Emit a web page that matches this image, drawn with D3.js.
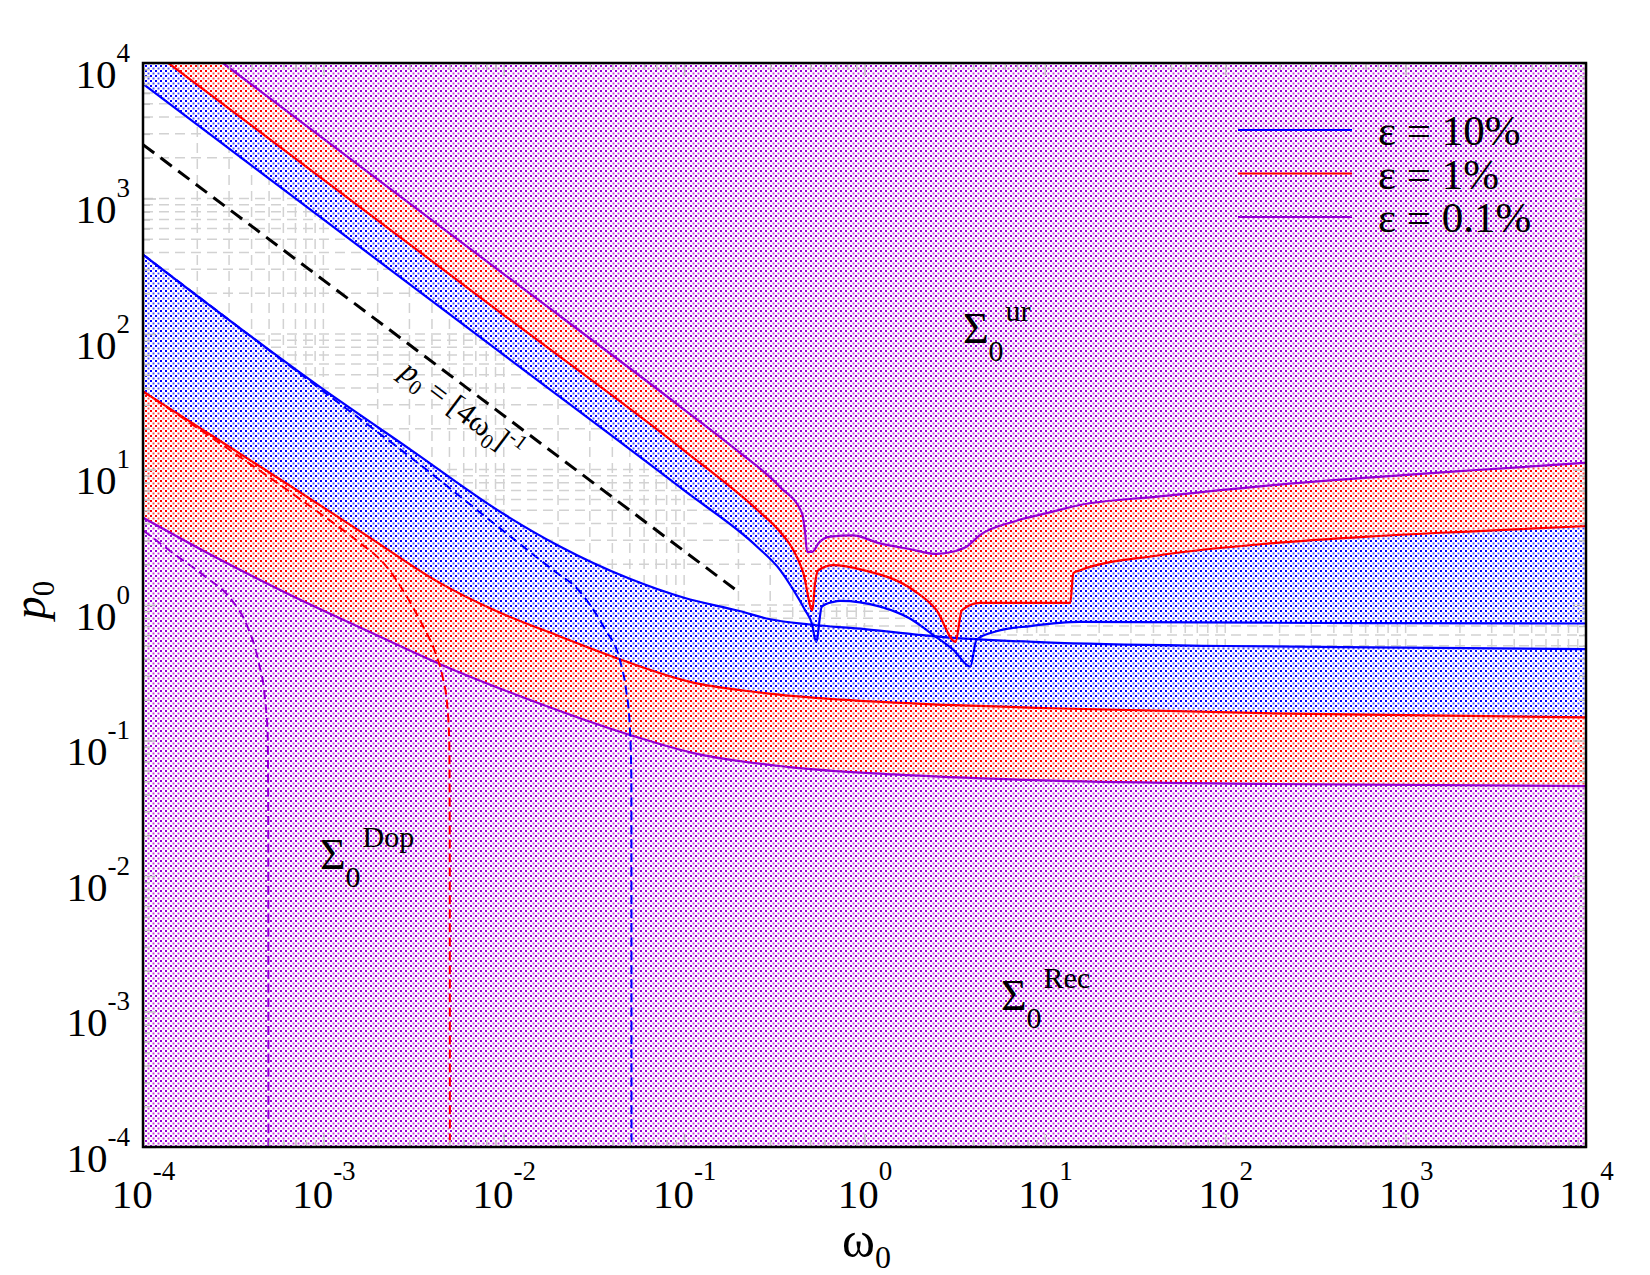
<!DOCTYPE html>
<html>
<head>
<meta charset="utf-8">
<script src="https://cdnjs.cloudflare.com/ajax/libs/d3/7.8.5/d3.min.js"></script>
<style>
body { margin: 0; background: #fff; }
text { font-family: "Liberation Serif", "Times New Roman", serif; fill: #000; }
</style>
</head>
<body>
<script>

// CURVES, [omega0, p0] PAIRS
var blueUpper = [[1e-4, 7000], [1e-3, 700], [1e-2, 70], [0.1, 7.0], [0.2557, 2.67], [0.3408, 1.81], [0.4036, 1.29],
	[0.4677, 0.919], [0.5105, 0.731], [0.5395, 0.535], [0.580, 0.972], [0.6727, 1.055], [0.7328, 1.074], [1.220, 0.972],
	[1.794, 0.792], [2.410, 0.600], [3.112, 0.466], [3.857, 0.351], [4.181, 0.555], [5.395, 0.640], [8.30, 0.699],
	[15.6, 0.751], [161.6, 0.740], [1e4, 0.730]];
var blueLower = [[1e-4, 386], [1e-3, 39], [3e-3, 14.2], [1e-2, 4.69], [0.02, 2.75], [0.05, 1.56], [0.1, 1.13], [0.2, 0.906],
	[0.3, 0.785], [0.5, 0.718], [1, 0.663], [3, 0.574], [10, 0.530], [100, 0.498], [1e3, 0.485], [1e4, 0.472]];
var blueDoppler = [[1e-4, 386], [1e-3, 37.7], [3e-3, 12.5], [1e-2, 3.5], [0.02, 1.70], [0.025, 1.36], [0.0298, 1.02],
	[0.0364, 0.663], [0.044, 0.394], [0.0476, 0.239], [0.04997, 0.128], [0.0510, 0.0523], [0.0511, 5e-5]];

var redUpper = [[1e-4, 13800], [1e-3, 1380], [1e-2, 138], [0.1, 13.8], [0.2557, 5.0], [0.3408, 3.46], [0.4036, 2.54],
	[0.4586, 1.71], [0.514, 0.914], [0.532, 1.445], [0.5535, 1.80], [0.6727, 1.97], [0.985, 1.81], [1.867, 1.285],
	[2.509, 0.914], [3.196, 0.535], [3.464, 0.914], [4.353, 1.036], [6.43, 1.036], [13.82, 1.036], [14.39, 1.72],
	[15.6, 1.80], [42.2, 2.32], [161.6, 2.82], [619, 3.20], [2373, 3.50], [1e4, 3.82]];
var redLower = [[1e-4, 37.7], [2.363e-4, 18.1], [6.56e-4, 7.55], [1.773e-3, 3.20], [4.42e-3, 1.456], [8.89e-3, 0.914],
	[0.0199, 0.595], [0.0464, 0.388], [0.108, 0.271], [0.2557, 0.227], [0.749, 0.200], [2.87, 0.183], [11.0, 0.173],
	[161.6, 0.159], [1e4, 0.148]];
var redDoppler = [[1e-4, 37.7], [2.4e-4, 17.2], [9.06e-4, 5.0], [1.55e-3, 2.95], [2.169e-3, 2.02], [2.876e-3, 1.175],
	[3.565e-3, 0.70], [4.19e-3, 0.44], [4.603e-3, 0.286], [4.857e-3, 0.183], [4.989e-3, 0.0978], [5.02e-3, 0.0179], [5.03e-3, 5e-5]];

var violetUpper = [[1e-4, 27700], [1e-3, 2770], [1e-2, 277], [0.1, 27.7], [0.1954, 13.9], [0.3408, 7.41], [0.4494, 4.78],
	[0.4677, 3.50], [0.4807, 2.47], [0.514, 2.47], [0.557, 2.87], [0.6456, 3.20], [0.8566, 3.26], [1.220, 2.85],
	[1.794, 2.58], [2.509, 2.38], [3.112, 2.48], [3.69, 2.70], [4.382, 3.29], [6.69, 4.12], [10.24, 4.76], [15.6, 5.47],
	[42.2, 6.31], [161.6, 7.55], [619, 8.71], [2373, 9.87], [1e4, 11.2]];
var violetLower = [[1e-4, 4.41], [2.363e-4, 2.36], [6.3e-4, 1.217], [1.773e-3, 0.640], [4.54e-3, 0.361], [0.0133, 0.204],
	[0.051, 0.109], [0.108, 0.0818], [0.3825, 0.0637], [1.466, 0.0562], [11.0, 0.0505], [161.6, 0.0478], [1e4, 0.0461]];
var violetDoppler = [[1e-4, 3.56], [1.476e-4, 2.40], [2.209e-4, 1.622], [3.092e-4, 1.094], [3.782e-4, 0.70], [4.384e-4, 0.374],
	[4.752e-4, 0.200], [4.913e-4, 0.107], [4.947e-4, 0.0256], [4.96e-4, 5e-5]];

// p0 = [4 omega0]^-1 GUIDE, END POINTS
var guideLine = [[1e-4, 2500], [0.2, 1.25]];

var tickExponents = [-4, -3, -2, -1, 0, 1, 2, 3, 4];
var legendLabels = ["\u03b5 = 10%", "\u03b5 = 1%", "\u03b5 = 0.1%"];
var legendColors = ["#0000ff", "#ff0000", "#9400d3"];

var W = 1650, H = 1275;
var plot = { left: 143, right: 1586, top: 63, bottom: 1147 };

var svg = d3.select("body").append("svg").attr("width", W).attr("height", H);
var defs = svg.append("defs");

var x = d3.scaleLog().domain([1e-4, 1e4]).range([plot.left, plot.right]);
var y = d3.scaleLog().domain([1e-4, 1e4]).range([plot.bottom, plot.top]);

defs.append("clipPath").attr("id", "plotClip").append("rect")
	.attr("x", plot.left).attr("y", plot.top)
	.attr("width", plot.right - plot.left).attr("height", plot.bottom - plot.top);

function MakePattern(id, dark, light) {
	var pat = defs.append("pattern").attr("id", id)
		.attr("patternUnits", "userSpaceOnUse").attr("width", 5).attr("height", 5);
	pat.append("rect").attr("width", 5).attr("height", 5).attr("fill", "#fff");
	pat.append("rect").attr("x", 0).attr("y", 0).attr("width", 2).attr("height", 2).attr("fill", dark);
	pat.append("rect").attr("x", 2.5).attr("y", 2.5).attr("width", 2).attr("height", 2).attr("fill", light);
}
MakePattern("dotBlue", "#0000ff", "#4d4dff");
MakePattern("dotRed", "#ff0000", "#ff4d4d");
MakePattern("dotViolet", "#9400d3", "#cc3ee0");

var line = d3.line().x(function(d){ return x(d[0]) }).y(function(d){ return y(d[1]) }).curve(d3.curveMonotoneX);

function AbovePath(pts) {
	var n = pts.length - 1;
	return line(pts) + "L" + x(pts[n][0]) + "," + (plot.top - 600) + "L" + x(pts[0][0]) + "," + (plot.top - 600) + "Z";
}
function BelowPath(pts) {
	var n = pts.length - 1;
	return line(pts) + "L" + x(pts[n][0]) + "," + (plot.bottom + 600) + "L" + x(pts[0][0]) + "," + (plot.bottom + 600) + "Z";
}

var inner = svg.append("g").attr("clip-path", "url(#plotClip)");

inner.append("rect").attr("x", plot.left).attr("y", plot.top)
	.attr("width", plot.right - plot.left).attr("height", plot.bottom - plot.top).attr("fill", "#fff");

//GRID
var gridValues = [];
for (var e = -4; e < 4; e++) {
	for (var m = 1; m < 10; m++) {
		if (e == -4 && m == 1) continue;
		gridValues.push(m * Math.pow(10, e));
	}
}
var grid = inner.append("g").attr("stroke", "#d2d2d2").attr("stroke-width", 1.5).attr("stroke-dasharray", "10,6");
grid.selectAll("line.v").data(gridValues).enter().append("line").attr("class", "v")
	.attr("x1", function(d){ return x(d) }).attr("x2", function(d){ return x(d) })
	.attr("y1", plot.top).attr("y2", plot.bottom);
grid.selectAll("line.h").data(gridValues).enter().append("line").attr("class", "h")
	.attr("y1", function(d){ return y(d) }).attr("y2", function(d){ return y(d) })
	.attr("x1", plot.left).attr("x2", plot.right);

//PATTERN REGIONS, NARROWEST BAND FIRST
var bands = [
	{ up: blueUpper, low: blueLower, fill: "url(#dotBlue)" },
	{ up: redUpper, low: redLower, fill: "url(#dotRed)" },
	{ up: violetUpper, low: violetLower, fill: "url(#dotViolet)" }];
bands.forEach(function(b){
	inner.append("path").attr("d", AbovePath(b.up)).attr("fill", b.fill);
	inner.append("path").attr("d", BelowPath(b.low)).attr("fill", b.fill);
});

//CURVES
var solid = [[blueUpper, "#0000ff"], [blueLower, "#0000ff"], [redUpper, "#ff0000"], [redLower, "#ff0000"],
	[violetUpper, "#9400d3"], [violetLower, "#9400d3"]];
solid.forEach(function(s){
	inner.append("path").attr("d", line(s[0])).attr("fill", "none")
		.attr("stroke", s[1]).attr("stroke-width", 2.2);
});
var dashed = [[blueDoppler, "#0000ff"], [redDoppler, "#ff0000"], [violetDoppler, "#9400d3"]];
dashed.forEach(function(s){
	inner.append("path").attr("d", line(s[0])).attr("fill", "none")
		.attr("stroke", s[1]).attr("stroke-width", 2).attr("stroke-dasharray", "9,5");
});
inner.append("path").attr("d", d3.line().x(function(d){ return x(d[0]) }).y(function(d){ return y(d[1]) })(guideLine))
	.attr("fill", "none").attr("stroke", "#000").attr("stroke-width", 3).attr("stroke-dasharray", "14,8");

//GREY INWARD TICKS
var majors = tickExponents.map(function(k){ return Math.pow(10, k) });
var minors = gridValues.filter(function(v){ return majors.indexOf(v) < 0 });

function TickAxis(axisFn, values, size, transform) {
	var g = svg.append("g").attr("transform", transform)
		.call(axisFn.tickValues(values).tickSize(-size).tickFormat(""));
	g.select(".domain").remove();
	g.selectAll("text").remove();
	g.selectAll("line").attr("stroke", "#c4c4c4").attr("stroke-width", 1.5);
}
TickAxis(d3.axisBottom(x), minors, 7, "translate(0," + plot.bottom + ")");
TickAxis(d3.axisBottom(x), majors, 13, "translate(0," + plot.bottom + ")");
TickAxis(d3.axisTop(x), minors, 7, "translate(0," + plot.top + ")");
TickAxis(d3.axisTop(x), majors, 13, "translate(0," + plot.top + ")");
TickAxis(d3.axisLeft(y), minors, 7, "translate(" + plot.left + ",0)");
TickAxis(d3.axisLeft(y), majors, 13, "translate(" + plot.left + ",0)");
TickAxis(d3.axisRight(y), minors, 7, "translate(" + plot.right + ",0)");
TickAxis(d3.axisRight(y), majors, 13, "translate(" + plot.right + ",0)");

//FRAME
svg.append("rect").attr("x", plot.left).attr("y", plot.top)
	.attr("width", plot.right - plot.left).attr("height", plot.bottom - plot.top)
	.attr("fill", "none").attr("stroke", "#000").attr("stroke-width", 2.5);

//TICK LABELS
var xLab = svg.append("g").attr("transform", "translate(0," + plot.bottom + ")")
	.call(d3.axisBottom(x).tickValues(majors).tickSize(0).tickFormat(""));
xLab.select(".domain").remove();
xLab.selectAll("text").remove();
xLab.selectAll(".tick").each(function(d, i){
	var t = d3.select(this).append("text").attr("y", 61).attr("text-anchor", "middle");
	t.append("tspan").attr("font-size", 41).text("10");
	t.append("tspan").attr("font-size", 27).attr("dy", -28).text(String(tickExponents[i]));
});

var yLab = svg.append("g").attr("transform", "translate(" + plot.left + ",0)")
	.call(d3.axisLeft(y).tickValues(majors).tickSize(0).tickFormat(""));
yLab.select(".domain").remove();
yLab.selectAll("text").remove();
yLab.selectAll(".tick").each(function(d, i){
	var t = d3.select(this).append("text").attr("x", -13).attr("y", 24).attr("text-anchor", "end");
	t.append("tspan").attr("font-size", 41).text("10");
	t.append("tspan").attr("font-size", 27).attr("dy", -26).text(String(tickExponents[i]));
});

//AXIS TITLES
var xt = svg.append("text").attr("x", 842).attr("y", 1257);
xt.append("tspan").attr("font-size", 50).text("\u03c9");
xt.append("tspan").attr("font-size", 32).attr("dy", 11).text("0");

var yt = svg.append("text").attr("transform", "translate(45,600) rotate(-90)").attr("text-anchor", "middle");
yt.append("tspan").attr("font-size", 46).attr("font-style", "italic").text("p");
yt.append("tspan").attr("font-size", 31).attr("dy", 9).text("0");

//REGION LABELS
function SigmaLabel(px, py, sup) {
	var t = svg.append("text").attr("x", px).attr("y", py);
	t.append("tspan").attr("font-size", 44).text("\u03a3");
	t.append("tspan").attr("font-size", 30).attr("dy", 18).text("0");
	t.append("tspan").attr("font-size", 30).attr("dy", -40).attr("dx", 2).text(sup);
}
SigmaLabel(963, 343, "ur");
SigmaLabel(320, 869, "Dop");
SigmaLabel(1001, 1010, "Rec");

//GUIDE LINE LABEL
var angle = Math.atan2(y(guideLine[1][1]) - y(guideLine[0][1]), x(guideLine[1][0]) - x(guideLine[0][0])) * 180 / Math.PI;
var gl = svg.append("text").attr("transform", "translate(456,418) rotate(" + angle + ")").attr("text-anchor", "middle");
gl.append("tspan").attr("font-size", 31).attr("font-style", "italic").text("p");
gl.append("tspan").attr("font-size", 21).attr("dy", 7).text("0");
gl.append("tspan").attr("font-size", 31).attr("dy", -7).text(" = [4\u03c9");
gl.append("tspan").attr("font-size", 21).attr("dy", 7).text("0");
gl.append("tspan").attr("font-size", 31).attr("dy", -7).text("]");
gl.append("tspan").attr("font-size", 21).attr("dy", -13).text("-1");

//LEGEND
var legend = svg.append("g");
legendLabels.forEach(function(lab, i){
	var ly = 130 + i * 43.5;
	legend.append("line").attr("x1", 1238).attr("x2", 1352).attr("y1", ly).attr("y2", ly)
		.attr("stroke", legendColors[i]).attr("stroke-width", 2.2);
	legend.append("text").attr("x", 1378).attr("y", ly + 15).attr("font-size", 43).text(lab);
});

</script>
</body>
</html>
